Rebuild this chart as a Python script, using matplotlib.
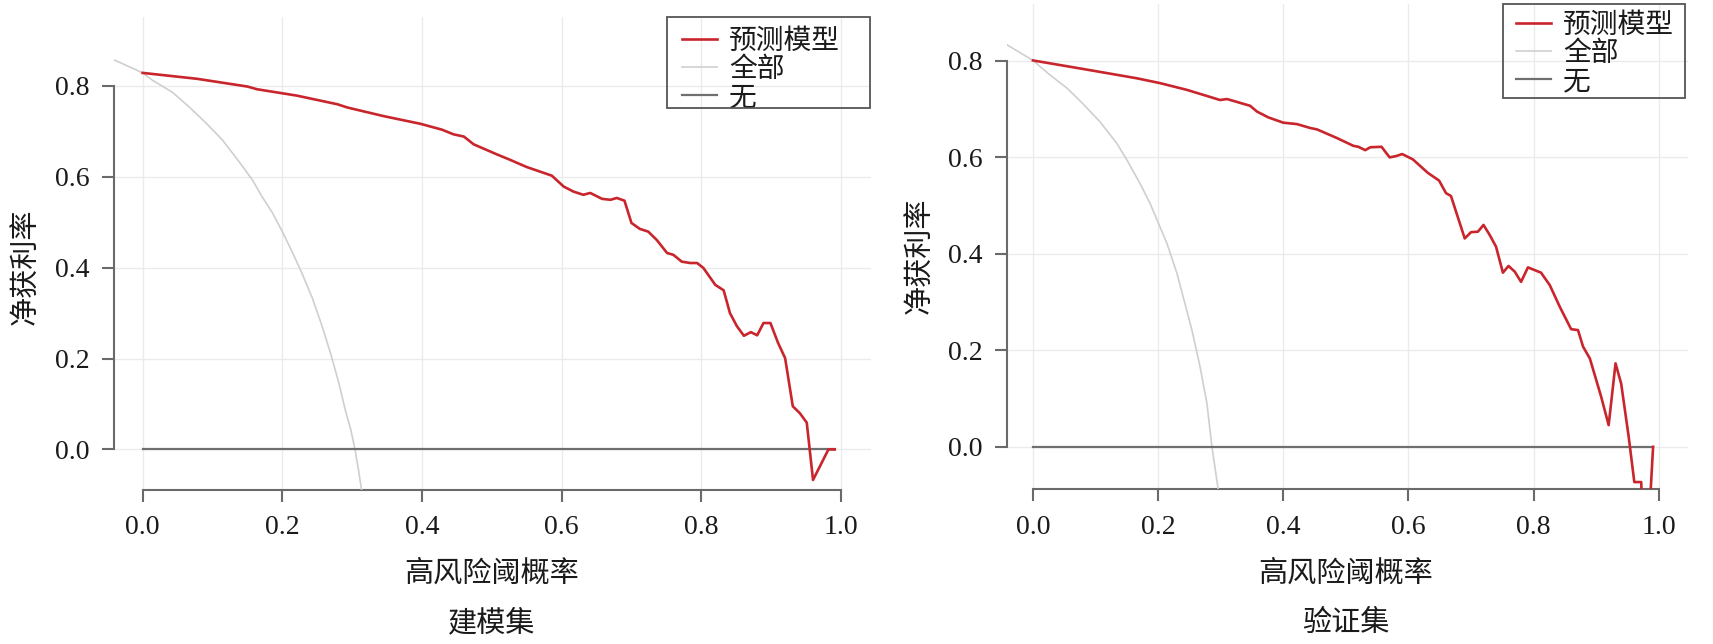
import numpy as np
import matplotlib
matplotlib.use('Agg')
import matplotlib.pyplot as plt
from matplotlib.patches import Rectangle

plt.rcParams['font.family'] = ['Liberation Serif', 'Noto Sans CJK SC']

# 建模集 data
train_model_x = [0.0, 0.078, 0.150, 0.164, 0.221, 0.279, 0.293, 0.345, 0.398, 0.429, 0.445, 0.460,
                 0.474, 0.507, 0.526, 0.550, 0.586, 0.603, 0.617, 0.631, 0.641, 0.658, 0.670, 0.679,
                 0.690, 0.700, 0.712, 0.724, 0.736, 0.751, 0.760, 0.772, 0.784, 0.794, 0.803, 0.820,
                 0.832, 0.841, 0.851, 0.861, 0.871, 0.880, 0.889, 0.899, 0.910, 0.920, 0.931, 0.941,
                 0.951, 0.960, 0.982, 0.991]
train_model_y = [0.828, 0.815, 0.798, 0.792, 0.778, 0.759, 0.752, 0.733, 0.716, 0.703, 0.693, 0.688,
                 0.671, 0.649, 0.637, 0.621, 0.602, 0.578, 0.567, 0.560, 0.564, 0.551, 0.549, 0.553,
                 0.547, 0.498, 0.485, 0.479, 0.461, 0.432, 0.428, 0.413, 0.410, 0.410, 0.399, 0.362,
                 0.350, 0.300, 0.271, 0.250, 0.258, 0.251, 0.278, 0.278, 0.234, 0.201, 0.095, 0.080,
                 0.059, -0.067, 0.0, 0.0]
train_all_x = [-0.040, 0.0, 0.014, 0.043, 0.066, 0.090, 0.114, 0.138, 0.157, 0.171, 0.186, 0.200,
               0.214, 0.228, 0.243, 0.257, 0.269, 0.281, 0.290, 0.298, 0.304, 0.309, 0.313, 0.318]
train_all_y = [0.856, 0.828, 0.812, 0.785, 0.754, 0.719, 0.681, 0.633, 0.593, 0.556, 0.520, 0.479,
               0.435, 0.388, 0.333, 0.271, 0.212, 0.146, 0.088, 0.044, 0.001, -0.044, -0.084, -0.13]

# 验证集 data
test_model_x = [0.0, 0.086, 0.166, 0.203, 0.246, 0.299, 0.310, 0.347, 0.358, 0.376, 0.400, 0.422,
                0.443, 0.454, 0.486, 0.512, 0.520, 0.531, 0.539, 0.557, 0.570, 0.581, 0.590, 0.607,
                0.631, 0.649, 0.660, 0.668, 0.690, 0.700, 0.711, 0.720, 0.730, 0.740, 0.751, 0.760,
                0.770, 0.780, 0.791, 0.812, 0.826, 0.842, 0.860, 0.871, 0.879, 0.890, 0.908, 0.920,
                0.931, 0.940, 0.952, 0.961, 0.972, 0.974, 0.985, 0.991]
test_model_y = [0.801, 0.782, 0.764, 0.754, 0.740, 0.719, 0.721, 0.707, 0.695, 0.683, 0.672, 0.669,
                0.661, 0.658, 0.640, 0.624, 0.622, 0.615, 0.621, 0.622, 0.600, 0.603, 0.607, 0.596,
                0.568, 0.552, 0.526, 0.520, 0.432, 0.445, 0.446, 0.460, 0.439, 0.415, 0.361, 0.375,
                0.363, 0.342, 0.372, 0.361, 0.335, 0.290, 0.244, 0.242, 0.208, 0.183, 0.104, 0.045,
                0.173, 0.131, 0.021, -0.073, -0.073, -0.14, -0.14, 0.0]
test_all_x = [-0.041, 0.0, 0.027, 0.054, 0.080, 0.107, 0.134, 0.150, 0.171, 0.187, 0.203, 0.214,
              0.230, 0.240, 0.254, 0.267, 0.278, 0.286, 0.296, 0.300]
test_all_y = [0.833, 0.801, 0.771, 0.744, 0.711, 0.674, 0.629, 0.595, 0.546, 0.505, 0.456, 0.422,
              0.360, 0.311, 0.242, 0.166, 0.090, 0.0, -0.088, -0.13]

none_x = [0.0, 0.991]
none_y = [0.0, 0.0]

x_ticks = [0.0, 0.2, 0.4, 0.6, 0.8, 1.0]
y_ticks = [0.0, 0.2, 0.4, 0.6, 0.8]
legend_labels = ['预测模型', '全部', '无']

RED = '#C9252C'
LIGHT = '#CFCFCF'
DARK = '#6F6F6F'
AXC = '#6A6A6A'

W, H = 1713, 644
fig = plt.figure(figsize=(W / 100, H / 100), dpi=100)


def px(x0, y0, x1, y1):
    return [x0 / W, 1 - y1 / H, (x1 - x0) / W, (y1 - y0) / H]


panels = [
    dict(rect=px(114, 16.5, 871, 489.5), xlim=(-0.041, 1.043), ylim=(-0.088, 0.952),
         mx=train_model_x, my=train_model_y, ax_=train_all_x, ay=train_all_y,
         leg=(682, 29), box=(666.7, 17.3, 870, 108.3), ylab=(27, 267), xc=491.6, title='建模集'),
    dict(rect=px(1006.7, 4, 1687.5, 489.3), xlim=(-0.042, 1.046), ylim=(-0.088, 0.918),
         mx=test_model_x, my=test_model_y, ax_=test_all_x, ay=test_all_y,
         leg=(1516, 13), box=(1502.7, 4, 1685, 98.3), ylab=(921, 256), xc=1345.6, title='验证集'),
]

for p in panels:
    ax = fig.add_axes(p['rect'])
    ax.plot(p['mx'], p['my'], color=RED, lw=1.9, label=legend_labels[0], zorder=4)
    ax.plot(p['ax_'], p['ay'], color=LIGHT, lw=1.2, label=legend_labels[1], zorder=3)
    ax.plot(none_x, none_y, color=DARK, lw=1.6, label=legend_labels[2], zorder=3)
    ax.set_xlim(*p['xlim'])
    ax.set_ylim(*p['ylim'])
    ax.set_xticks(x_ticks)
    ax.set_yticks(y_ticks)
    ax.set_xticklabels(['%.1f' % v for v in x_ticks])
    ax.set_yticklabels(['%.1f' % v for v in y_ticks])
    ax.grid(True, color='#EBEBEB', lw=1.0, zorder=0)
    ax.set_axisbelow(True)
    for s in ['top', 'right']:
        ax.spines[s].set_visible(False)
    for s in ['left', 'bottom']:
        ax.spines[s].set_color(AXC)
        ax.spines[s].set_linewidth(1.5)
    ax.spines['left'].set_bounds(0, 0.8)
    ax.spines['bottom'].set_bounds(0, 1.0)
    ax.tick_params(axis='both', length=8.4, width=1.5, color=AXC, labelsize=20, labelcolor='#1a1a1a')
    ax.tick_params(axis='x', pad=10)
    ax.tick_params(axis='y', pad=9)

    lx, ly = p['leg']
    leg = ax.legend(loc='upper left', bbox_to_anchor=(lx / W, 1 - ly / H),
                    bbox_transform=fig.transFigure, borderaxespad=0, fontsize=20,
                    frameon=False, handlelength=1.25, handletextpad=0.45,
                    labelspacing=0.1, borderpad=0)
    for t in leg.get_texts():
        t.set_color('#1a1a1a')
    bx0, by0, bx1, by1 = p['box']
    fig.patches.append(Rectangle((bx0 / W, 1 - by1 / H), (bx1 - bx0) / W, (by1 - by0) / H,
                                 transform=fig.transFigure, fill=True, facecolor='none',
                                 edgecolor='#555555', lw=1.3, zorder=10))

    yx, yy = p['ylab']
    fig.text(yx / W, 1 - yy / H, '净获利率', rotation=90, ha='center', va='center',
             fontsize=21, color='#1a1a1a')
    fig.text(p['xc'] / W, 1 - 574 / H, '高风险阈概率', ha='center', va='center',
             fontsize=21, color='#1a1a1a')
    fig.text(p['xc'] / W, 1 - 623 / H, p['title'], ha='center', va='center',
             fontsize=21, color='#1a1a1a')

fig.savefig('out.png', dpi=100)
